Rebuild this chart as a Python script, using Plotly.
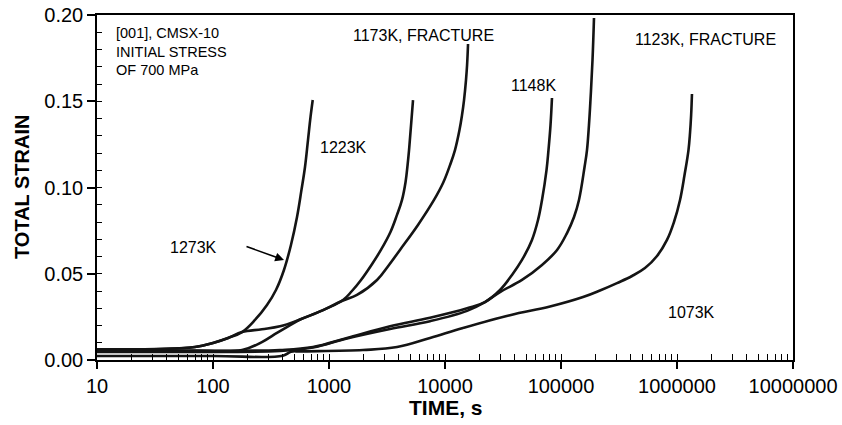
import plotly.graph_objects as go

# ---- data (time in s, total strain) ----
T_1273 = [10, 28.6, 70, 100, 135, 178, 230, 292, 349, 409, 470, 530, 579, 621, 659, 693, 724]
S_1273 = [0.0058, 0.0062, 0.0075, 0.0099, 0.0128, 0.0162, 0.0232, 0.0319, 0.0406, 0.0522, 0.0667, 0.0829, 0.0986, 0.1119, 0.1275, 0.1409, 0.1507]

T_1223 = [10, 70, 178, 264, 356, 444, 563, 800, 1321, 1577, 1888, 2323, 2803, 3388, 3857, 4260, 4572, 4757, 4898, 5097, 5300]
S_1223 = [0.0050, 0.0055, 0.0058, 0.0104, 0.0157, 0.0195, 0.0235, 0.0276, 0.0348, 0.040, 0.0464, 0.0551, 0.0638, 0.0742, 0.0841, 0.0928, 0.1032, 0.1130, 0.1217, 0.1362, 0.1507]

T_1173 = [10, 70, 100, 135, 178, 264, 378, 563, 800, 1321, 1743, 2594, 3289, 4090, 5848, 8040, 9616, 11050, 12190, 13330, 14020, 14590, 15170, 15500, 15800]
S_1173 = [0.0062, 0.0075, 0.0099, 0.0128, 0.0162, 0.0178, 0.0195, 0.0235, 0.0276, 0.0345, 0.0377, 0.0464, 0.0551, 0.0638, 0.0783, 0.0928, 0.1026, 0.1130, 0.1217, 0.1333, 0.1420, 0.1507, 0.1623, 0.1710, 0.1832]

T_1148 = [10, 100, 378, 728, 1430, 3360, 7430, 15500, 22100, 29800, 37800, 46100, 56200, 63400, 68600, 75000, 78000, 81200, 83600]
S_1148 = [0.0052, 0.0053, 0.0058, 0.0075, 0.0128, 0.0195, 0.0245, 0.030, 0.0336, 0.0406, 0.0493, 0.0580, 0.0696, 0.0812, 0.0928, 0.1101, 0.1217, 0.1362, 0.1519]

T_1123 = [10, 100, 378, 728, 1430, 3360, 7430, 15500, 22100, 29800, 46100, 68600, 92500, 112700, 129500, 142900, 159600, 167500, 174200, 179500, 186900, 192500]
S_1123 = [0.0046, 0.0047, 0.0052, 0.0072, 0.0125, 0.018, 0.0225, 0.0285, 0.0336, 0.0394, 0.0464, 0.0551, 0.0638, 0.0736, 0.0829, 0.0928, 0.1119, 0.1217, 0.1362, 0.1507, 0.1739, 0.1983]

T_1073 = [10, 100, 400, 470, 563, 1960, 3860, 7430, 14300, 36300, 80400, 154900, 216800, 304000, 409600, 529600, 672600, 820000, 942000, 1062000, 1161000, 1256000, 1295000, 1324000, 1346000]
S_1073 = [0.0023, 0.0023, 0.0025, 0.0048, 0.0050, 0.0058, 0.0075, 0.0128, 0.0186, 0.026, 0.031, 0.0365, 0.0403, 0.0446, 0.0487, 0.0533, 0.0603, 0.0696, 0.0800, 0.0928, 0.1072, 0.1217, 0.1316, 0.1420, 0.1542]

X_TICKS = [10, 100, 1000, 10000, 100000, 1000000, 10000000]
X_TICKTEXT = ["10", "100", "1000", "10000", "100000", "1000000", "10000000"]
Y_TICKS = [0.00, 0.05, 0.10, 0.15, 0.20]
Y_TICKTEXT = ["0.00", "0.05", "0.10", "0.15", "0.20"]

FONT = "Liberation Sans, Arial, Helvetica, sans-serif"
LINE = "#141414"

series = [(T_1273, S_1273), (T_1223, S_1223), (T_1173, S_1173),
          (T_1148, S_1148), (T_1123, S_1123), (T_1073, S_1073)]

fig = go.Figure()
for t, s in series:
    fig.add_trace(go.Scatter(x=t, y=s, mode="lines",
                             line=dict(color=LINE, width=2.6, shape="spline", smoothing=1.1),
                             showlegend=False, hoverinfo="skip"))

# empty trace to host overlay axes for inner minor ticks
fig.add_trace(go.Scatter(x=[], y=[], xaxis="x2", yaxis="y2", showlegend=False))

minor_x = [k * 10 ** n for n in range(1, 7) for k in range(1, 10)] + [10 ** 7]
minor_y = [round(0.01 * i, 2) for i in range(0, 21)]

fig.update_layout(
    width=842, height=425,
    margin=dict(l=97, r=49, t=15, b=65, autoexpand=False),
    paper_bgcolor="white", plot_bgcolor="white",
    font=dict(family=FONT, color="black"),
    xaxis=dict(type="log", range=[1, 7], tickvals=X_TICKS, ticktext=X_TICKTEXT,
               ticks="outside", ticklen=7, tickwidth=1.5, tickcolor="black",
               showline=True, linecolor="black", linewidth=1.5, mirror=True, automargin=False,
               showgrid=False, zeroline=False, tickfont=dict(size=20, family=FONT)),
    yaxis=dict(range=[0, 0.2], tickvals=Y_TICKS, ticktext=Y_TICKTEXT,
               ticks="outside", ticklen=8, tickwidth=1.5, tickcolor="black",
               showline=True, linecolor="black", linewidth=1.5, mirror=True, automargin=False,
               showgrid=False, zeroline=False, tickfont=dict(size=20, family=FONT)),
    xaxis2=dict(type="log", range=[1, 7], overlaying="x", anchor="y", side="bottom",
                tickvals=minor_x, ticks="inside", ticklen=6, tickwidth=1.2, tickcolor="black",
                showticklabels=False, showline=False, showgrid=False, zeroline=False, automargin=False),
    yaxis2=dict(range=[0, 0.2], overlaying="y", anchor="x", side="left",
                tickvals=minor_y, ticks="inside", ticklen=5, tickwidth=1.2, tickcolor="black",
                showticklabels=False, showline=False, showgrid=False, zeroline=False, automargin=False),
)

def lx(px):
    return 1 + (px - 97) / 116.0

def sy(py):
    return (360 - py) / 1725.0

labels = [
    ("[001], CMSX-10", 114, 33, 14.5),
    ("INITIAL STRESS", 114, 52, 14.5),
    ("OF 700 MPa", 114, 70, 14.5),
    ("1173K, FRACTURE", 351, 35, 16),
    ("1123K, FRACTURE", 633, 39, 16),
    ("1148K", 509, 85, 16),
    ("1223K", 318, 147, 16),
    ("1273K", 168, 247, 16),
    ("1073K", 666, 312, 16),
]
for txt, px, py, sz in labels:
    fig.add_annotation(x=lx(px), y=sy(py), xref="x", yref="y", text=txt,
                       showarrow=False, xanchor="left", yanchor="middle",
                       font=dict(size=sz, family=FONT, color="black"))

# arrow pointing to 1273K curve
fig.add_annotation(x=lx(284), y=sy(260), xref="x", yref="y", text="",
                   showarrow=True, arrowhead=2, arrowsize=1.1, arrowwidth=1.6,
                   arrowcolor="black", ax=-39, ay=-14)

# axis titles
fig.add_annotation(x=0.501, y=-0.139, xref="paper", yref="paper", text="<b>TIME, s</b>",
                   showarrow=False, xanchor="center", yanchor="middle",
                   font=dict(size=21, family=FONT, color="black"))
fig.add_annotation(x=-0.108, y=0.501, xref="paper", yref="paper", text="<b>TOTAL STRAIN</b>",
                   showarrow=False, xanchor="center", yanchor="middle", textangle=-90,
                   font=dict(size=20, family=FONT, color="black"))

fig.write_html("out.html", config={"displayModeBar": False},
               post_script="document.body.style.margin='0';document.body.style.padding='0';")
